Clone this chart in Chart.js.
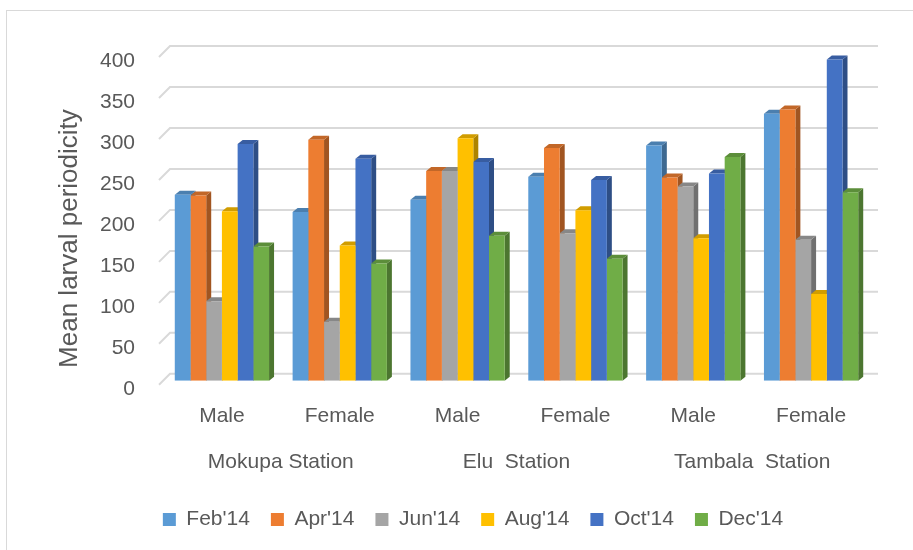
<!DOCTYPE html>
<html>
<head>
<meta charset="utf-8">
<script src="https://cdn.jsdelivr.net/npm/chart.js@4/dist/chart.umd.min.js"></script>
<style>
html, body { margin: 0; padding: 0; background: #fff; }
#wrap { position: relative; width: 913px; height: 550px; overflow: hidden; }
#frame { position: absolute; left: 6px; top: 10px; width: 1000px; height: 1000px; border: 1px solid #d9d9d9; }
canvas { position: absolute; left: 0; top: 0; }
</style>
</head>
<body>
<div id="wrap">
  <div id="frame"></div>
  <canvas id="myChart" width="913" height="550"></canvas>
</div>
<script>
const categories = ['Male', 'Female', 'Male', 'Female', 'Male', 'Female'];
const stations = ['Mokupa Station', 'Elu  Station', 'Tambala  Station'];
const months = ["Feb'14", "Apr'14", "Jun'14", "Aug'14", "Oct'14", "Dec'14"];
const colors = ['#5B9BD5', '#ED7D31', '#A5A5A5', '#FFC000', '#4472C4', '#70AD47'];

const feb = [227, 206, 221, 249, 287, 326];
const apr = [226, 294, 256, 284, 248, 331];
const jun = [97, 72, 256, 180, 237, 172];
const aug = [207, 165, 296, 208, 174, 106];
const oct = [289, 271, 267, 245, 253, 392];
const dec = [164, 143, 177, 149, 273, 230];
const series = [feb, apr, jun, aug, oct, dec];

const yTicks = [0, 50, 100, 150, 200, 250, 300, 350, 400];

const FONT = '"Liberation Sans", Arial, sans-serif';
const TEXT = '#595959';
const DX = 5, DY = 4;

function shade(hex, f) {
  const n = parseInt(hex.slice(1), 16);
  const r = Math.round(((n >> 16) & 255) * f);
  const g = Math.round(((n >> 8) & 255) * f);
  const b = Math.round((n & 255) * f);
  return 'rgb(' + r + ',' + g + ',' + b + ')';
}

// back wall grid + side/top faces of the bars, drawn before the front faces
const bar3d = {
  id: 'bar3d',
  afterLayout(chart) {
    // nudge the legend to where the original sits
    const lg = chart.legend;
    lg.left += 38; lg.right += 38;
    lg.top += 3; lg.bottom += 3;
  },
  beforeDatasetsDraw(chart) {
    const ctx = chart.ctx;
    const area = chart.chartArea;
    const y = chart.scales.y;
    ctx.save();
    ctx.strokeStyle = '#d9d9d9';
    ctx.lineWidth = 2;
    y.ticks.forEach(t => {
      const py = y.getPixelForValue(t.value);
      ctx.beginPath();
      ctx.moveTo(area.left - 4, py + 4);
      ctx.lineTo(area.left + 7, py - 7);
      ctx.lineTo(area.right + 8, py - 7);
      ctx.stroke();
    });
    chart.data.datasets.forEach((ds, i) => {
      const meta = chart.getDatasetMeta(i);
      meta.data.forEach(bar => {
        const l = bar.x - bar.width / 2;
        const r = bar.x + bar.width / 2;
        ctx.fillStyle = shade(ds.backgroundColor, 0.68);
        ctx.beginPath();
        ctx.moveTo(r, bar.y);
        ctx.lineTo(r + DX, bar.y - DY);
        ctx.lineTo(r + DX, bar.base - DY);
        ctx.lineTo(r, bar.base);
        ctx.closePath();
        ctx.fill();
        ctx.fillStyle = shade(ds.backgroundColor, 0.82);
        ctx.beginPath();
        ctx.moveTo(l, bar.y);
        ctx.lineTo(l + DX, bar.y - DY);
        ctx.lineTo(r + DX, bar.y - DY);
        ctx.lineTo(r, bar.y);
        ctx.closePath();
        ctx.fill();
      });
    });
    ctx.restore();
  }
};

const ctx = document.getElementById('myChart').getContext('2d');
new Chart(ctx, {
  type: 'bar',
  data: {
    labels: categories,
    datasets: months.map((m, i) => ({
      label: m,
      data: series[i],
      backgroundColor: colors[i],
      borderWidth: 0,
      categoryPercentage: 0.8,
      barPercentage: 1.0
    }))
  },
  options: {
    responsive: false,
    animation: false,
    layout: { padding: { left: 0, right: 43, top: 53, bottom: 13 } },
    plugins: {
      tooltip: { enabled: false },
      legend: {
        position: 'bottom',
        labels: {
          boxWidth: 13,
          boxHeight: 13,
          padding: 21,
          color: TEXT,
          font: { family: FONT, size: 21 }
        }
      }
    },
    scales: {
      x: {
        grid: { display: false },
        border: { display: false },
        ticks: { color: TEXT, padding: 15, font: { family: FONT, size: 21 } },
        afterFit: s => { s.height = 51; }
      },
      x2: {
        type: 'category',
        labels: stations,
        position: 'bottom',
        grid: { display: false },
        border: { display: false },
        ticks: { color: TEXT, padding: 10, font: { family: FONT, size: 21 } }
      },
      y: {
        min: 0,
        max: 400,
        grid: { display: false },
        border: { display: false },
        afterBuildTicks: s => { s.ticks = yTicks.map(v => ({ value: v })); },
        ticks: { color: TEXT, padding: 20, labelOffset: 8, font: { family: FONT, size: 21 } },
        title: {
          display: true,
          text: 'Mean larval periodicity      ',
          color: TEXT,
          padding: { top: 54, bottom: 0 },
          font: { family: FONT, size: 26 }
        },
        afterFit: s => { s.width = 163; }
      }
    }
  },
  plugins: [bar3d]
});
</script>
</body>
</html>
